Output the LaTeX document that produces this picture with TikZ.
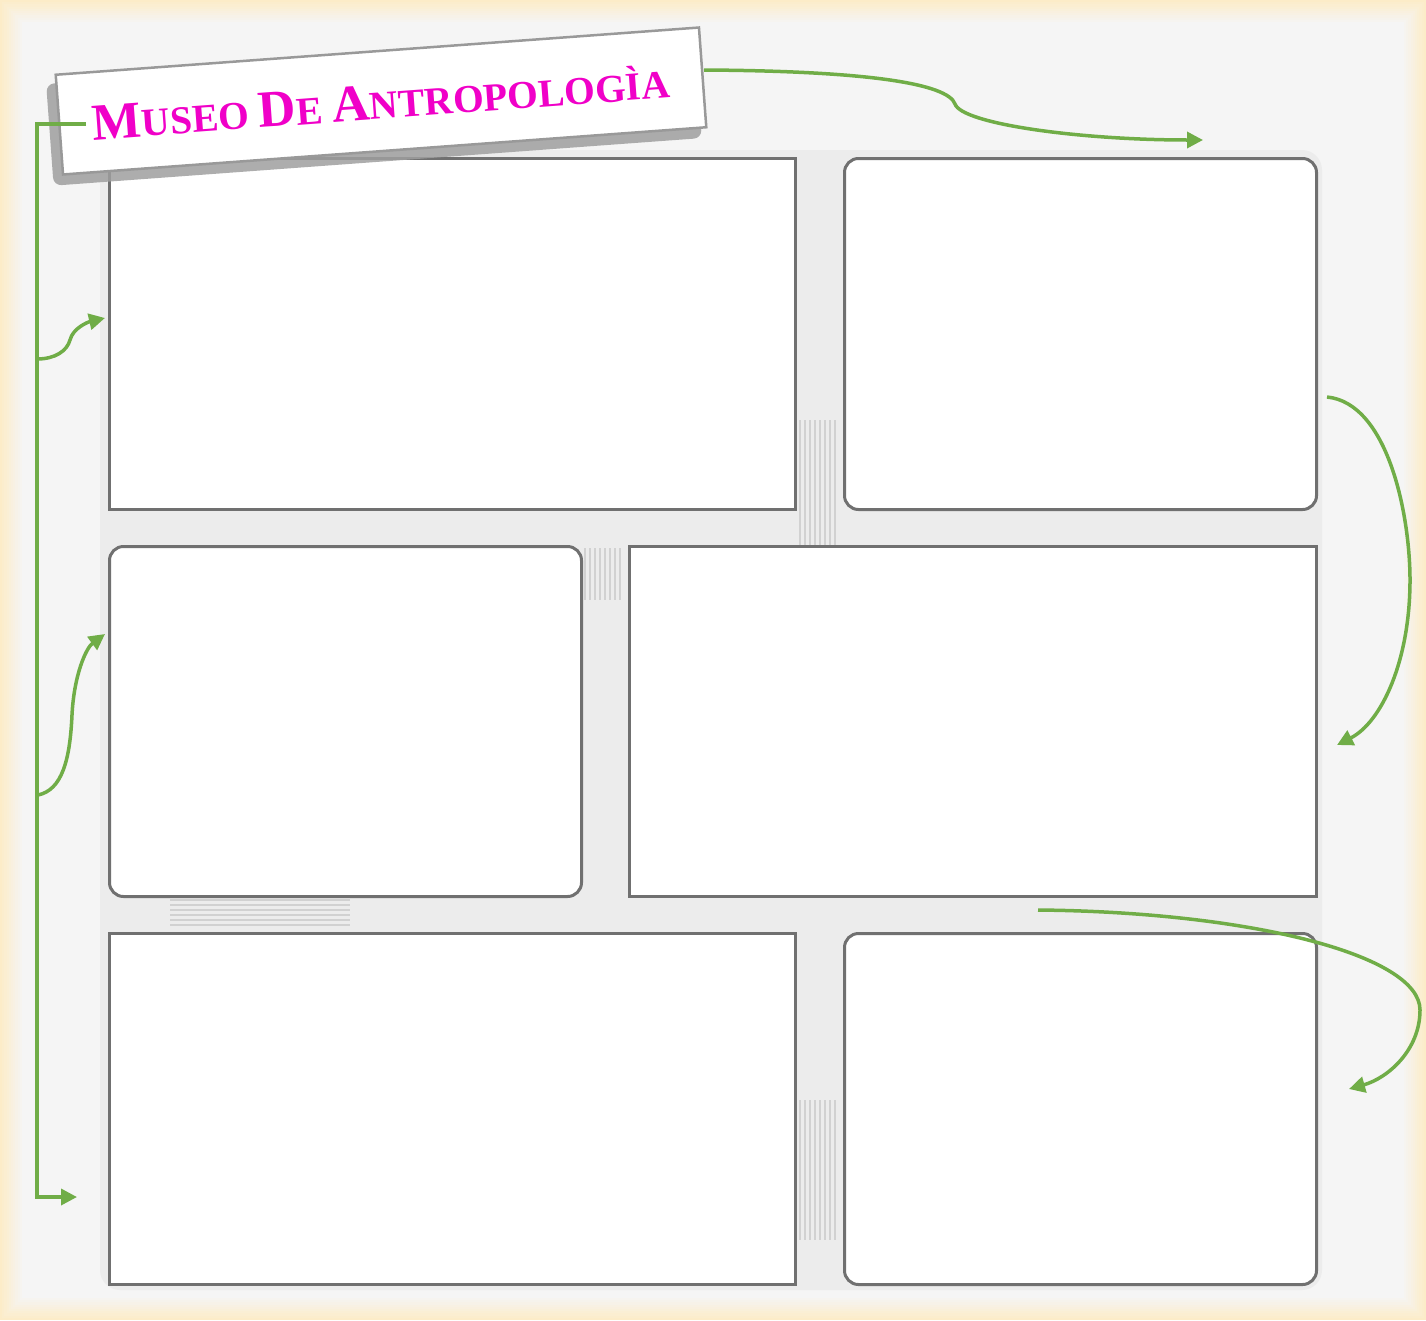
\documentclass[tikz,border=0pt]{standalone}
\usepackage{fontspec}
\newfontfamily\titlefont{Liberation Serif}
\usetikzlibrary{arrows.meta}
\definecolor{arrowgreen}{RGB}{112,173,71}
\definecolor{boxgray}{RGB}{112,112,112}
\definecolor{titlemag}{RGB}{240,0,200}
\definecolor{beigeedge}{RGB}{252,236,200}
\definecolor{bginner}{RGB}{245,245,245}
\definecolor{gapgray}{RGB}{236,236,236}
\begin{document}
\begin{tikzpicture}[x=1pt,y=-1pt,
  panel/.style={draw=boxgray,line width=3pt,fill=white,anchor=north west,inner sep=0pt},
  roundpanel/.style={panel,rounded corners=14pt},
  conn/.style={draw=arrowgreen,line width=3.5pt},
  arr/.style={conn,-{Triangle[length=16pt,width=16pt]}},
  stripe/.style={draw=gray!60,line width=1.5pt,opacity=0.45},
]
% background
\useasboundingbox (0,0) rectangle (1426,1320);
\fill[beigeedge] (0,0) rectangle (1426,1320);
\foreach \i in {1,...,10}{
  \pgfmathsetmacro{\m}{\i*10}
  \fill[bginner!\m!beigeedge] (\i*2.2,\i*2.2) rectangle (1426-\i*2.2,1320-\i*2.2);
}
\fill[gapgray,rounded corners=20pt] (100,150) rectangle (1322,1290);
% faint stripes in the gaps
\foreach \x in {800,805,...,838}{
  \draw[stripe] (\x,420) -- (\x,545);
  \draw[stripe] (\x,1100) -- (\x,1240);
}
\foreach \x in {585,590,...,623}{
  \draw[stripe] (\x,548) -- (\x,600);
}
\foreach \y in {900,905,...,925}{
  \draw[stripe] (170,\y) -- (350,\y);
}
% panels
\node[panel,minimum width=686,minimum height=351] (A) at (108,157) {};
\node[roundpanel,minimum width=472,minimum height=351] (B) at (843,157) {};
\node[roundpanel,minimum width=472,minimum height=350] (C) at (108,545) {};
\node[panel,minimum width=687,minimum height=350] (D) at (628,545) {};
\node[panel,minimum width=686,minimum height=351] (E) at (108,932) {};
\node[roundpanel,minimum width=472,minimum height=351] (F) at (843,932) {};
% title banner
\node[rotate=4.2,fill=gray!75,rounded corners=8pt,minimum width=650,minimum height=102,opacity=0.85] (shadow) at (374,111) {};
\node[rotate=4.2,draw=gray!80,line width=2.5pt,fill=white,minimum width=645,minimum height=100,inner sep=0pt] (banner) at (381,101) {};
\node[rotate=4.2,text=titlemag,inner sep=0pt] (title) at (381,102)
  {\titlefont\bfseries\fontsize{52}{52}\selectfont M\fontsize{39.5}{40}\selectfont USEO \fontsize{52}{52}\selectfont D\fontsize{39.5}{40}\selectfont E \fontsize{52}{52}\selectfont A\fontsize{39.5}{40}\selectfont NTROPOLOGÌA};
% connector coordinates
\coordinate (t1) at (704,70);
\coordinate (t1k) at (955,104);
\coordinate (t1e) at (1203,140);
\coordinate (lb0) at (86,124);
\coordinate (lb1) at (37,124);
\coordinate (lb2) at (37,1197);
\coordinate (lb3) at (77,1197);
\coordinate (b1s) at (37,359);
\coordinate (b1k) at (70,340);
\coordinate (b1e) at (105,318);
\coordinate (b2s) at (38,795);
\coordinate (b2e) at (105,634);
\coordinate (r1s) at (1327,397);
\coordinate (r1m) at (1410,580);
\coordinate (r1e) at (1337,745);
\coordinate (r2s) at (1038,910);
\coordinate (r2m) at (1420,1010);
\coordinate (r2e) at (1349,1089);
% connectors
\draw[arr] (t1) .. controls (870,71) and (948,84) .. (t1k) .. controls (962,124) and (1080,140) .. (t1e);
\draw[arr,line join=miter] (lb0) -- (lb1) -- (lb2) -- (lb3);
\draw[arr] (b1s) .. controls (55,359) and (67,351) .. (b1k) .. controls (73,328) and (88,322) .. (b1e);
\draw[arr] (b2s) .. controls (62,790) and (70,760) .. (72,715) .. controls (74,675) and (86,648) .. (b2e);
\draw[arr] (r1s) .. controls (1388,403) and (1410,515) .. (r1m) .. controls (1410,660) and (1382,722) .. (r1e);
\draw[arr] (r2s) .. controls (1250,912) and (1420,955) .. (r2m) .. controls (1420,1050) and (1388,1078) .. (r2e);
\end{tikzpicture}
\end{document}
